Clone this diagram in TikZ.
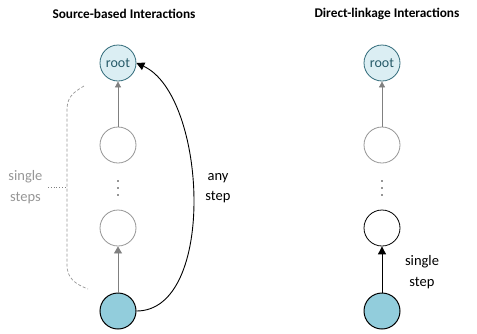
\documentclass[tikz,border=0pt]{standalone}
\usepackage{fontspec}
\setmainfont{Carlito}
\usetikzlibrary{arrows.meta}
\definecolor{rootfill}{RGB}{219,238,243}
\definecolor{rootline}{RGB}{49,107,122}
\definecolor{rootText}{RGB}{38,90,104}
\definecolor{srcfill}{RGB}{146,205,220}
\definecolor{midgray}{RGB}{128,128,128}
\definecolor{lightgray}{RGB}{150,150,150}
\tikzset{
  px/.style={x=1pt,y=-1pt},
  title/.style={font=\bfseries\fontsize{13.3}{15}\selectfont, anchor=center},
  rootnode/.style={circle, draw=rootline, fill=rootfill, minimum size=36pt, inner sep=0pt,
    text=rootText, font=\fontsize{14}{16}\selectfont, line width=0.8pt},
  graynode/.style={circle, draw=lightgray, fill=white, minimum size=36pt, inner sep=0pt, line width=0.8pt},
  blacknode/.style={circle, draw=black, fill=white, minimum size=36pt, inner sep=0pt, line width=0.8pt},
  srcnode/.style={circle, draw=black, fill=srcfill, minimum size=36pt, inner sep=0pt, line width=1pt},
  grayarrow/.style={draw=midgray, line width=0.8pt, -{Triangle[length=6pt,width=6pt,fill=midgray]}},
  blackarrow/.style={draw=black, line width=0.9pt, -{Triangle[length=8pt,width=8pt]}},
  dotmark/.style={fill=lightgray, minimum size=1.6pt, inner sep=0pt},
  lbl/.style={font=\fontsize{14.5}{20.5}\selectfont, align=center},
}
\begin{document}
\begin{tikzpicture}[px]
\useasboundingbox (0,0) rectangle (477,333);

% titles
\node[title] (t1) at (124,14) {Source-based Interactions};
\node[title] (t2) at (387,14) {Direct-linkage Interactions};

% left chain
\node[rootnode] (r1) at (118,63) {root};
\node[graynode] (a1) at (118,145) {};
\node[graynode] (b1) at (118,228) {};
\node[srcnode]  (s1) at (118,311) {};
\node[dotmark] (d11) at (118,181) {};
\node[dotmark] (d12) at (118,188) {};
\node[dotmark] (d13) at (118,195) {};

\draw[grayarrow] (a1) -- (r1);
\draw[grayarrow, -{Triangle[length=7pt,width=8pt,fill=midgray]}] (s1) -- (b1);
\draw[blackarrow] (s1.east) .. controls (217,311) and (207,95) .. (r1.east);

% bracket for single steps
\coordinate (bt) at (84,86);
\coordinate (bb) at (88,289);
\coordinate (bm) at (67,187);
\coordinate (bl) at (48,187);
\draw[lightgray, dashed, dash pattern=on 3pt off 2pt, line width=0.7pt]
  (bt) .. controls (72,93) and (67,98) .. (67,110) -- (67,265)
  .. controls (67,278) and (75,284) .. (bb);
\draw[midgray, dotted, line width=0.8pt] (bl) -- (bm);
\node[lbl, text=lightgray, anchor=east] (ss) at (46,187) {single\\steps};

\node[lbl] (any) at (218,188) {any\\step};

% right chain
\node[rootnode] (r2) at (382,63) {root};
\node[graynode] (a2) at (382,145) {};
\node[blacknode] (b2) at (382,228) {};
\node[srcnode]  (s2) at (382,311) {};
\node[dotmark] (d21) at (382,181) {};
\node[dotmark] (d22) at (382,188) {};
\node[dotmark] (d23) at (382,195) {};

\draw[grayarrow] (a2) -- (r2);
\draw[blackarrow] (s2) -- (b2);
\node[lbl] (single) at (422,272) {single\\step};
\end{tikzpicture}
\end{document}
